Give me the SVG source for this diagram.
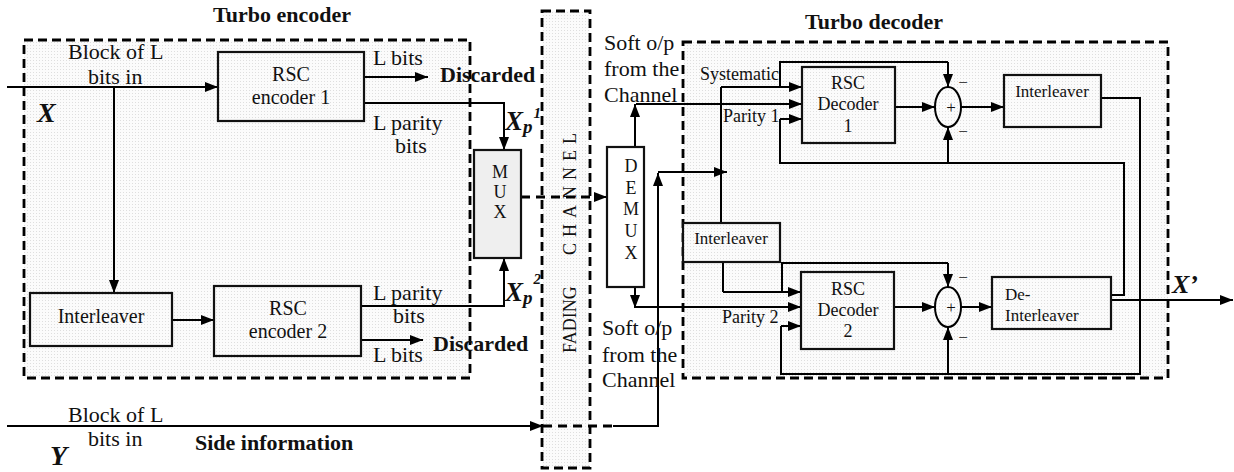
<svg xmlns="http://www.w3.org/2000/svg" width="1234" height="472" viewBox="0 0 1234 472">
<defs>
<marker id="ah" markerUnits="userSpaceOnUse" markerWidth="14" markerHeight="12" refX="13" refY="5" orient="auto">
<path d="M0,0 L13,5 L0,10 z" fill="#000"/>
</marker>
<pattern id="dots" width="3" height="3" patternUnits="userSpaceOnUse">
<rect width="3" height="3" fill="#fbfbfb"/>
<rect width="1" height="1" fill="#dedede"/>
</pattern>
<style>
text{font-family:"Liberation Serif","Times New Roman",serif;fill:#111}
.t22{font-size:22px}
.t20{font-size:20px}
.t18{font-size:18px}
.t17{font-size:17px}
.b{font-weight:bold}
.bi{font-weight:bold;font-style:italic}
.c{text-anchor:middle}
.cont{fill:url(#dots);stroke:#000;stroke-width:2.8;stroke-dasharray:9 5}
.box{fill:url(#dots);stroke:#111;stroke-width:2.2}
.mux{fill:#efefef;stroke:#111;stroke-width:2.2}
.ln{fill:none;stroke:#000;stroke-width:2}
.ar{fill:none;stroke:#000;stroke-width:2;marker-end:url(#ah)}
.dl{fill:none;stroke:#000;stroke-width:3;stroke-dasharray:9 6}
</style>
</defs>
<rect width="1234" height="472" fill="#fff"/>

<g id="turbo-encoder">
<rect class="cont" x="24" y="40" width="446" height="338"/>
<text class="t22 b c" x="282" y="22">Turbo encoder</text>
</g>
<g id="fading-channel">
<rect class="cont" x="542" y="11" width="48" height="457"/>
<g transform="translate(576,353) rotate(-90)">
<text class="t18" x="0" y="0">FADING</text>
<text class="t18" x="98" y="0" letter-spacing="6">CHANNEL</text>
</g>
</g>
<g id="turbo-decoder">
<rect class="cont" x="683" y="42" width="485" height="336"/>
<text class="t22 b" x="805" y="29">Turbo decoder</text>
</g>

<g id="connectors">
<path class="ar" d="M7,87 H218"/>
<path class="ar" d="M114,87 V293"/>
<path class="ar" d="M172,320 H214"/>
<path class="ar" d="M364,77 H428"/>
<path class="ar" d="M364,103 H504 V150"/>
<path class="ar" d="M361,306 H504 V258"/>
<path class="ar" d="M361,340 H423"/>
<path class="dl" d="M521,197 H596"/>
<path class="ar" d="M596,197 H607"/>
<path class="ar" d="M7,426 H543"/>
<path class="dl" d="M543,426 H613"/>
<path class="ar" d="M613,426 H658 V173"/>
<path class="ar" d="M635,147 V104"/>
<path class="ar" d="M636,104 H802"/>
<path class="ar" d="M635,287 V308"/>
<path class="ar" d="M636,307 H801"/>
<path class="ar" d="M658,172 H727"/>
<path class="ln" d="M721,223 V87"/>
<path class="ar" d="M721,87 H802"/>
<path class="ln" d="M780,87 V62 H948"/>
<path class="ar" d="M948,62 V87"/>
<path class="ln" d="M1111,295 H1124 V163 H780 V119"/>
<path class="ar" d="M780,119 H802"/>
<path class="ar" d="M948,163 V127"/>
<path class="ar" d="M895,107 H935"/>
<path class="ar" d="M961,107 H1004"/>
<path class="ln" d="M1101,98 H1140 V374 H781 V326"/>
<path class="ar" d="M781,326 H801"/>
<path class="ar" d="M948,374 V327"/>
<path class="ln" d="M723,262 V292"/>
<path class="ar" d="M723,292 H801"/>
<path class="ln" d="M782,292 V263 H948"/>
<path class="ar" d="M948,263 V287"/>
<path class="ar" d="M894,307 H935"/>
<path class="ar" d="M961,307 H992"/>
<path class="ar" d="M1108,300 H1233"/>
</g>

<g id="rsc-encoder-1">
<rect class="box" x="218" y="52" width="146" height="69"/>
<text class="t20 c" x="291" y="81">RSC</text>
<text class="t20 c" x="291" y="104">encoder 1</text>
</g>
<g id="interleaver-enc">
<rect class="box" x="30" y="293" width="142" height="53"/>
<text class="t20 c" x="101" y="323">Interleaver</text>
</g>
<g id="rsc-encoder-2">
<rect class="box" x="214" y="286" width="147" height="70"/>
<text class="t20 c" x="288" y="315">RSC</text>
<text class="t20 c" x="288" y="338">encoder 2</text>
</g>
<g id="mux">
<rect class="mux" x="474" y="150" width="47" height="108"/>
<text class="t18 c" x="500" y="178">M</text>
<text class="t18 c" x="500" y="198">U</text>
<text class="t18 c" x="500" y="218">X</text>
</g>
<g id="demux">
<rect class="box" x="607" y="147" width="37" height="140" style="fill:#fff"/>
<text class="t18 c" x="631" y="172">D</text>
<text class="t18 c" x="631" y="194">E</text>
<text class="t18 c" x="631" y="215">M</text>
<text class="t18 c" x="631" y="237">U</text>
<text class="t18 c" x="631" y="259">X</text>
</g>
<g id="rsc-decoder-1">
<rect class="box" x="802" y="67" width="93" height="76"/>
<text class="t18 c" x="848" y="89">RSC</text>
<text class="t18 c" x="848" y="110">Decoder</text>
<text class="t18 c" x="848" y="132">1</text>
</g>
<g id="sum-1">
<ellipse cx="948" cy="107" rx="13" ry="20" fill="none" stroke="#000" stroke-width="2"/>
<text class="t17 c" x="951" y="113">+</text>
<text class="t17 c" x="963" y="88">−</text>
<text class="t17 c" x="963" y="137">−</text>
</g>
<g id="interleaver-dec-1">
<rect class="box" x="1004" y="75" width="97" height="52"/>
<text class="t17 c" x="1052" y="97">Interleaver</text>
</g>
<g id="interleaver-dec-2">
<rect class="box" x="683" y="223" width="97" height="39"/>
<text class="t17 c" x="731" y="244">Interleaver</text>
</g>
<g id="rsc-decoder-2">
<rect class="box" x="801" y="272" width="93" height="77"/>
<text class="t18 c" x="848" y="295">RSC</text>
<text class="t18 c" x="848" y="316">Decoder</text>
<text class="t18 c" x="848" y="337">2</text>
</g>
<g id="sum-2">
<ellipse cx="948" cy="307" rx="13" ry="20" fill="none" stroke="#000" stroke-width="2"/>
<text class="t17 c" x="951" y="313">+</text>
<text class="t17 c" x="963" y="283">−</text>
<text class="t17 c" x="963" y="343">−</text>
</g>
<g id="de-interleaver">
<rect class="box" x="992" y="277" width="119" height="52"/>
<text class="t17" x="1005" y="300">De-</text>
<text class="t17" x="1005" y="321">Interleaver</text>
</g>

<g id="labels">
<text class="t22" x="68" y="59">Block of L</text>
<text class="t22" x="88" y="84">bits in</text>
<text class="bi" x="37" y="122" font-size="28">X</text>
<text class="t22" x="373" y="65">L bits</text>
<text class="t22 b" x="440" y="82">Discarded</text>
<text class="t22" x="373" y="130">L parity</text>
<text class="t22" x="395" y="153">bits</text>
<text class="bi" x="505" y="130" font-size="27">X<tspan font-size="19" dy="3">p</tspan><tspan font-size="15" dx="1" dy="-15">1</tspan></text>
<text class="bi" x="505" y="301" font-size="27">X<tspan font-size="19" dy="3">p</tspan><tspan font-size="15" dx="1" dy="-20">2</tspan></text>
<text class="t22" x="373" y="300">L parity</text>
<text class="t22" x="393" y="323">bits</text>
<text class="t22" x="373" y="362">L bits</text>
<text class="t22 b" x="433" y="351">Discarded</text>
<text class="t22" x="68" y="422">Block of L</text>
<text class="t22" x="88" y="446">bits in</text>
<text class="bi" x="50" y="465" font-size="28">Y</text>
<text class="t22 b" x="195" y="450">Side information</text>
<text class="t22" x="604" y="50">Soft o/p</text>
<text class="t22" x="604" y="76">from the</text>
<text class="t22" x="604" y="102">Channel</text>
<text class="t22" x="602" y="335">Soft o/p</text>
<text class="t22" x="602" y="362">from the</text>
<text class="t22" x="602" y="387">Channel</text>
<text class="t18" x="700" y="80">Systematic</text>
<text class="t18" x="723" y="122">Parity 1</text>
<text class="t18" x="722" y="323">Parity 2</text>
<text class="bi" x="1172" y="293" font-size="26">X’</text>
</g>
</svg>
